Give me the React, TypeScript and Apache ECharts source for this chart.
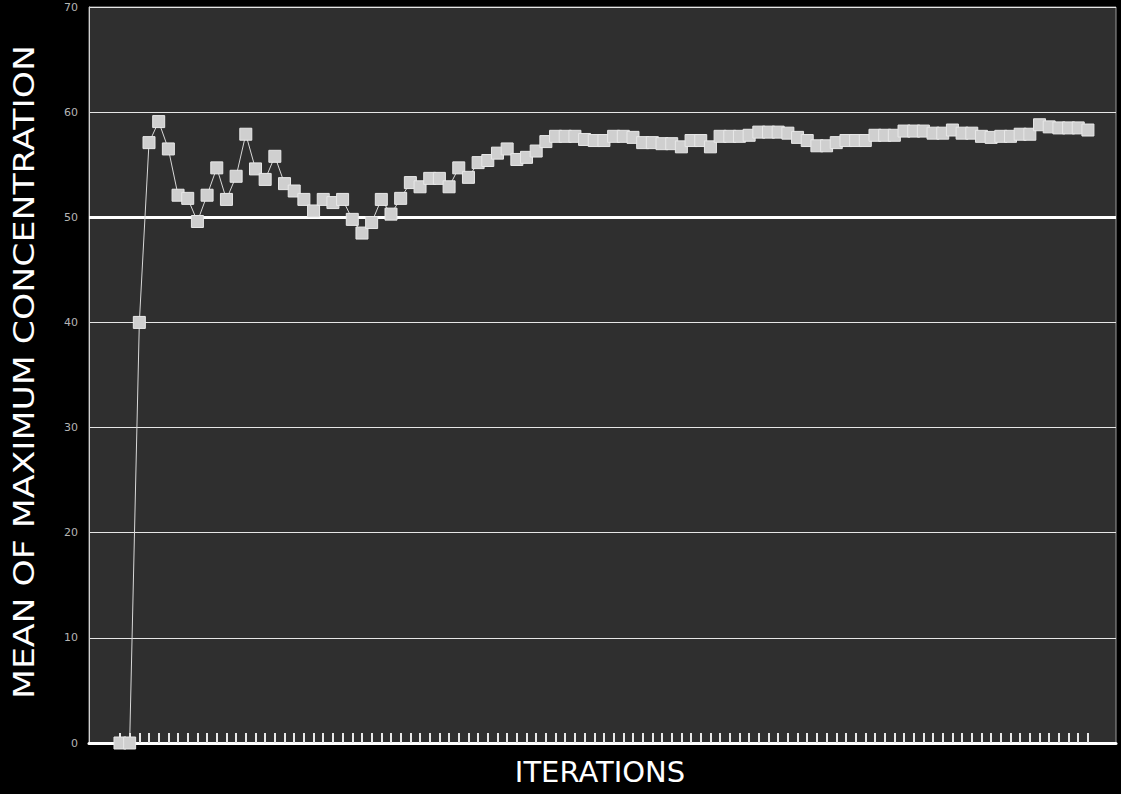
import React, { useEffect, useRef } from "react";
import * as echarts from "echarts";

const yTitle = "MEAN OF MAXIMUM CONCENTRATION";
const xTitle = "ITERATIONS";
const yTicks = [0, 10, 20, 30, 40, 50, 60, 70];
const highlightLevel = 50;
const meanValues = [
  0, 0, 40, 57.1, 59.1, 56.5, 52.1, 51.8, 49.6, 52.1,
  54.7, 51.7, 53.9, 57.9, 54.6, 53.6, 55.8, 53.2, 52.5, 51.7,
  50.6, 51.7, 51.4, 51.7, 49.8, 48.5, 49.5, 51.7, 50.3, 51.8,
  53.3, 52.9, 53.7, 53.7, 52.9, 54.7, 53.8, 55.2, 55.4, 56.1,
  56.5, 55.5, 55.7, 56.3, 57.2, 57.7, 57.7, 57.7, 57.4, 57.3,
  57.3, 57.7, 57.7, 57.6, 57.1, 57.1, 57.0, 57.0, 56.7, 57.3,
  57.3, 56.7, 57.7, 57.7, 57.7, 57.8, 58.1, 58.1, 58.1, 58.0,
  57.6, 57.3, 56.8, 56.8, 57.1, 57.3, 57.3, 57.3, 57.8, 57.8,
  57.8, 58.2, 58.2, 58.2, 58.0, 58.0, 58.3, 58.0, 58.0, 57.7,
  57.6, 57.7, 57.7, 57.9, 57.9, 58.8, 58.6, 58.5, 58.5, 58.5,
  58.3,
];

export default function App() {
  const ref = useRef<HTMLDivElement>(null);
  useEffect(() => {
    if (!ref.current) return;
    const chart = echarts.init(ref.current, null, { renderer: "svg" });
    const points = meanValues.map((v, i) => [i, v]);
    const tickValues = meanValues.map((_, i) => i);
    chart.setOption({
      animation: false,
      backgroundColor: "#000",
      grid: {
        left: 89,
        right: 5,
        top: 7,
        bottom: 51,
        show: true,
        backgroundColor: "#2f2f2f",
        borderColor: "#9a9a9a",
        borderWidth: 1,
      },
      xAxis: {
        type: "value",
        min: -3.2,
        max: 102.9,
        axisLine: { show: true, onZero: false, lineStyle: { color: "#fff", width: 3 } },
        axisTick: {
          show: true,
          inside: true,
          length: 10,
          customValues: tickValues,
          lineStyle: { color: "#e8e8e8", width: 2 },
        },
        axisLabel: { show: false },
        splitLine: { show: false },
      },
      yAxis: {
        type: "value",
        min: 0,
        max: 70,
        interval: 10,
        axisLine: { show: true, onZero: false, lineStyle: { color: "#d0d0d0", width: 1 } },
        axisTick: { show: false },
        axisLabel: {
          color: "#b5b5b5",
          fontSize: 11,
          margin: 11,
          fontFamily: "DejaVu Sans",
          customValues: yTicks,
        },
        splitLine: { show: true, lineStyle: { color: "#e6e6e6", width: 1 } },
      },
      graphic: [
        {
          type: "text",
          x: 24,
          y: 372,
          rotation: Math.PI / 2,
          scaleX: 1.24,
          style: {
            text: yTitle,
            fill: "#ffffff",
            fontSize: 28,
            fontFamily: "DejaVu Sans",
            align: "center",
            verticalAlign: "middle",
          },
        },
        {
          type: "text",
          x: 600,
          y: 772,
          style: {
            text: xTitle,
            fill: "#ffffff",
            fontSize: 29,
            fontFamily: "DejaVu Sans",
            align: "center",
            verticalAlign: "middle",
          },
        },
      ],
      series: [
        {
          type: "line",
          data: points,
          symbol: "rect",
          symbolSize: 12,
          showAllSymbol: true,
          itemStyle: { color: "#cfcfcf", borderColor: "#e8e8e8", borderWidth: 1 },
          lineStyle: { color: "#d8d8d8", width: 1 },
          markLine: {
            silent: true,
            symbol: "none",
            label: { show: false },
            lineStyle: { color: "#ffffff", width: 3, type: "solid" },
            data: [{ yAxis: highlightLevel }],
          },
          z: 5,
        },
      ],
    });
    return () => chart.dispose();
  }, []);
  return (
    <div
      ref={ref}
      style={{ position: "fixed", left: 0, top: 0, width: 1121, height: 794, background: "#000" }}
    />
  );
}
